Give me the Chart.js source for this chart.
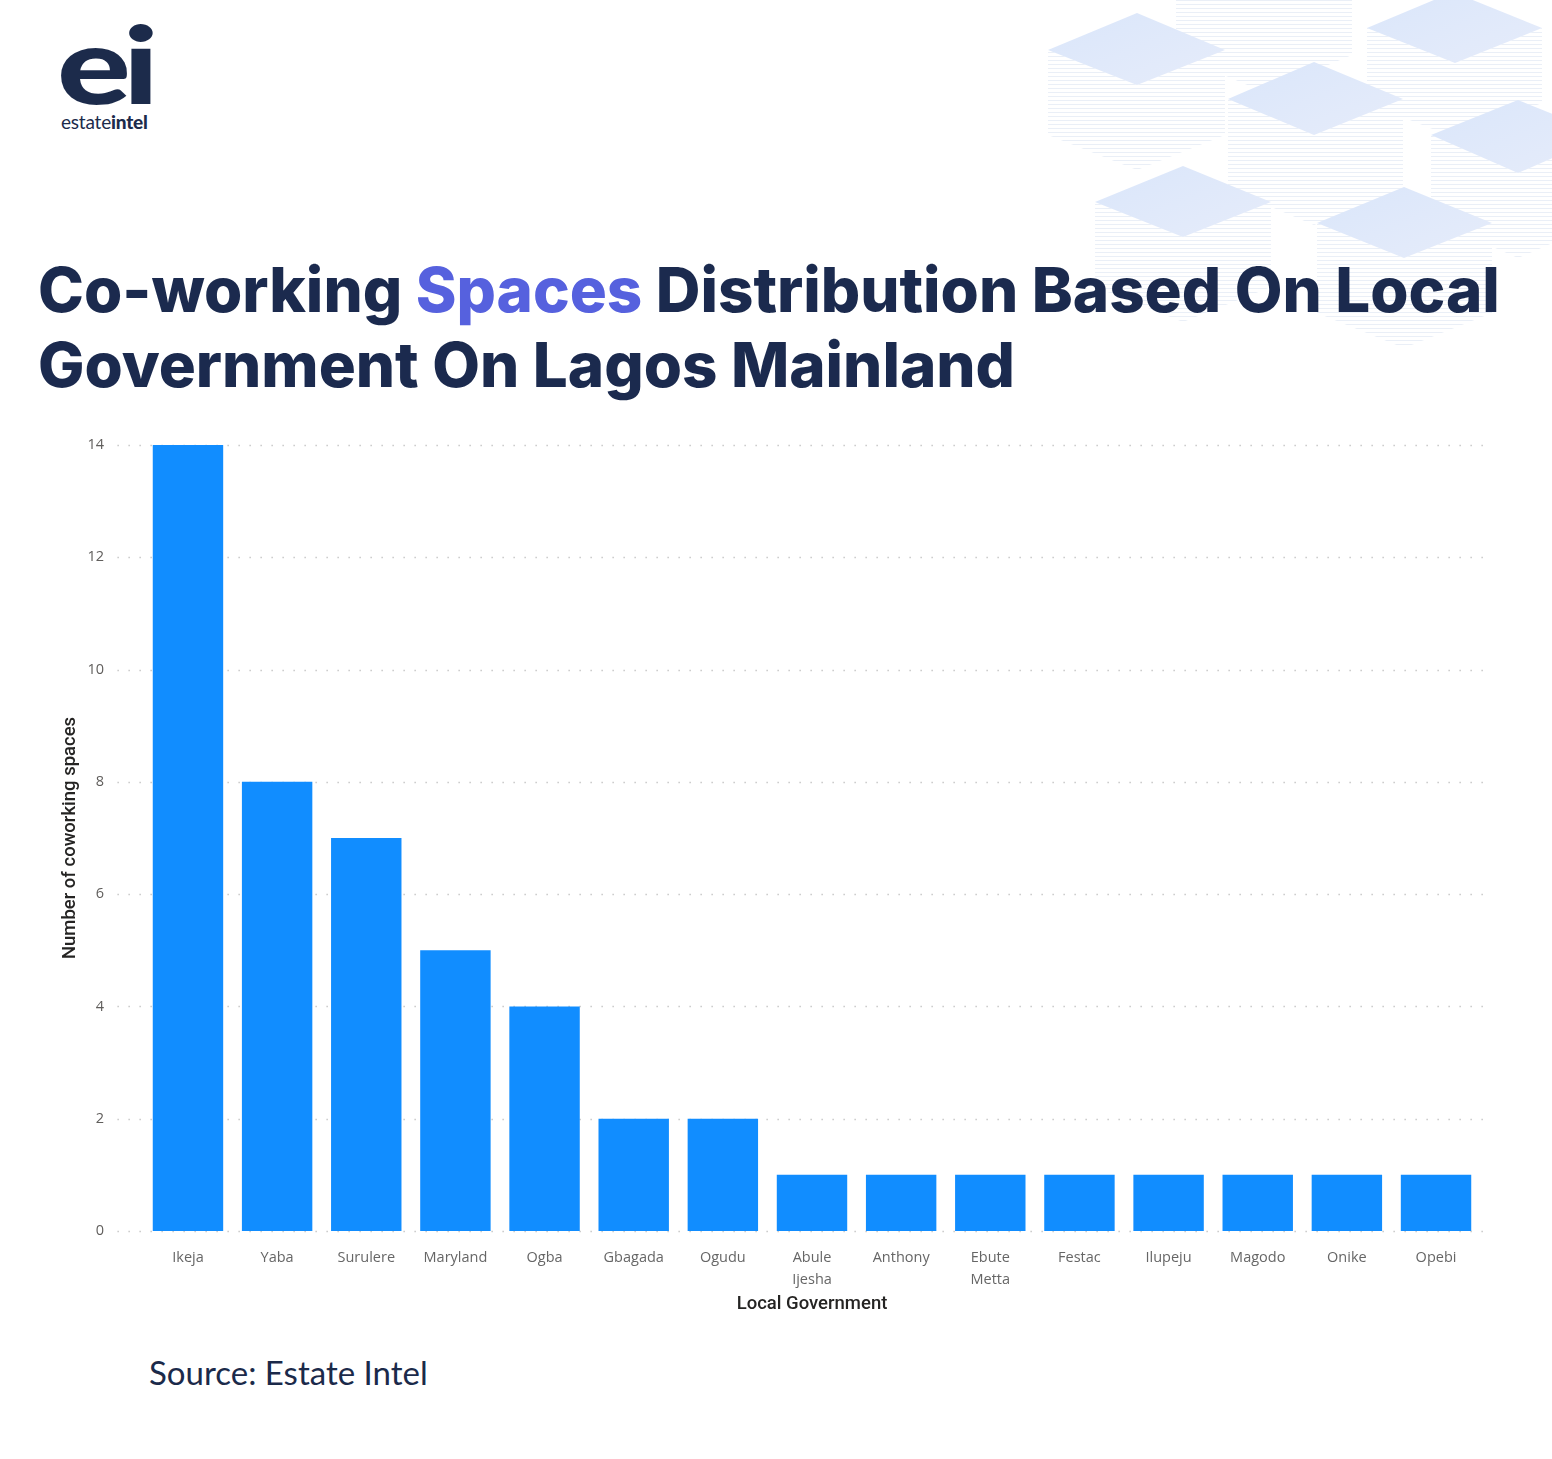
<!DOCTYPE html>
<html>
<head>
<meta charset="utf-8">
<script src="https://cdn.jsdelivr.net/npm/chart.js@4.4.1/dist/chart.umd.min.js"></script>
<style>
  html, body { margin:0; padding:0; background:#fff; }
  body { width:1552px; height:1459px; position:relative; overflow:hidden; }
  #bg { position:absolute; left:0; top:0; }
  .logo-ei { position:absolute; left:57px; top:10px; font-family:"Lato", "Open Sans", sans-serif; font-weight:900; font-size:106px; color:#1c2b4b; line-height:1; letter-spacing:-6px; transform:scaleX(1.3); transform-origin:left top; }
  .logo-txt { position:absolute; left:61px; top:112px; font-family:"Lato", sans-serif; font-size:19px; color:#1c2b4b; line-height:1; letter-spacing:-0.2px; }
  .logo-txt b { font-weight:900; }
  .title { position:absolute; left:38px; font-family:"Inter", sans-serif; font-weight:800; color:#1b2a4e; white-space:nowrap; line-height:1; }
  .title span { color:#5661de; }
  #chartBox { position:absolute; left:0; top:420px; width:1552px; height:900px; }
  .source { position:absolute; left:149px; top:1356px; font-family:"Lato", "Open Sans", sans-serif; font-size:33px; color:#1b2a4a; line-height:1; }
</style>
</head>
<body>
<svg id="bg" width="1552" height="360" xmlns="http://www.w3.org/2000/svg">
  <defs>
    <linearGradient id="topg" x1="0" y1="0" x2="1" y2="1">
      <stop offset="0" stop-color="#dae6fa"/>
      <stop offset="1" stop-color="#e6ecfa"/>
    </linearGradient>
    <pattern id="stripes" width="6" height="4" patternUnits="userSpaceOnUse">
      <rect width="6" height="4" fill="#ffffff"/>
      <rect y="0" width="6" height="1" fill="#eaeff7"/>
    </pattern>
  </defs>
  <g id="cubes"></g>
</svg>

<div class="logo-ei">ei</div>
<div class="logo-txt">estate<b>intel</b></div>

<div class="title" id="t1">Co-working <span>Spaces</span> Distribution Based On Local</div>
<div class="title" id="t2">Government On Lagos Mainland</div>

<div id="chartBox"><canvas id="c"></canvas></div>

<div class="source">Source: Estate Intel</div>

<script>
// ---- Data ----
const categories = ["Ikeja","Yaba","Surulere","Maryland","Ogba","Gbagada","Ogudu","Abule Ijesha","Anthony","Ebute Metta","Festac","Ilupeju","Magodo","Onike","Opebi"];
const coworkingSpaces = [14, 8, 7, 5, 4, 2, 2, 1, 1, 1, 1, 1, 1, 1, 1];
const yTicks = [0, 2, 4, 6, 8, 10, 12, 14];

// ---- Background decorative cubes ----
(function(){
  const cubes = [
    {l:[1176,-40], t:[1264,-77], r:[1352,-40], b:[1264,-3], d:95},
    {l:[1048,50], t:[1137,13], r:[1225,50], b:[1137,85], d:85},
    {l:[1367,28], t:[1453,-8], r:[1542,28], b:[1455,63], d:75},
    {l:[1228,99], t:[1314,62], r:[1403,99], b:[1314,135], d:90},
    {l:[1431,135], t:[1518,100], r:[1605,135], b:[1518,173], d:85},
    {l:[1095,202], t:[1183,166], r:[1271,202], b:[1183,237], d:85},
    {l:[1317,223], t:[1404,187], r:[1492,223], b:[1404,258], d:90}
  ];
  const g = document.getElementById('cubes');
  const ns = 'http://www.w3.org/2000/svg';
  cubes.forEach(c => {
    const d = c.d;
    const side = document.createElementNS(ns,'polygon');
    side.setAttribute('points', `${c.l[0]},${c.l[1]} ${c.b[0]},${c.b[1]} ${c.r[0]},${c.r[1]} ${c.r[0]},${c.r[1]+d} ${c.b[0]},${c.b[1]+d} ${c.l[0]},${c.l[1]+d}`);
    side.setAttribute('fill','url(#stripes)');
    g.appendChild(side);
    const top = document.createElementNS(ns,'polygon');
    top.setAttribute('points', `${c.l[0]},${c.l[1]} ${c.t[0]},${c.t[1]} ${c.r[0]},${c.r[1]} ${c.b[0]},${c.b[1]}`);
    top.setAttribute('fill','url(#topg)');
    g.appendChild(top);
  });
})();

// ---- Title fitting ----
(function(){
  const t1 = document.getElementById('t1'), t2 = document.getElementById('t2');
  let fs = 60;
  t1.style.fontSize = fs + 'px';
  const w = t1.getBoundingClientRect().width;
  fs = fs * 1462 / w;
  [t1, t2].forEach(t => t.style.fontSize = fs + 'px');
  t1.style.top = (313 - fs*0.88) + 'px';
  t2.style.top = (388 - fs*0.88) + 'px';
})();

// ---- Chart ----
const points = coworkingSpaces.map((v, i) => ({x: i, y: v}));

// dotted horizontal gridlines that run a little past the bar area, as in the reference
const gridPlugin = {
  id: 'extGrid',
  beforeDatasetsDraw(chart) {
    const {ctx, chartArea, scales: {y}} = chart;
    ctx.save();
    ctx.strokeStyle = '#c8c8c8';
    ctx.lineWidth = 1.5;
    ctx.setLineDash([1.5, 9.5]);
    y.ticks.forEach(t => {
      const py = Math.round(y.getPixelForValue(t.value)) + 0.5;
      ctx.beginPath();
      ctx.moveTo(chartArea.left - 26, py);
      ctx.lineTo(chartArea.right + 7, py);
      ctx.stroke();
    });
    ctx.restore();
  }
};

new Chart(document.getElementById('c'), {
  type: 'bar',
  data: {
    datasets: [{
      data: points,
      backgroundColor: '#118dff',
      borderWidth: 0,
      categoryPercentage: 1,
      barPercentage: 0.79
    }]
  },
  plugins: [gridPlugin],
  options: {
    responsive: true,
    maintainAspectRatio: false,
    animation: false,
    layout: { padding: { left: 55, right: 71.4, top: 25, bottom: 0 } },
    plugins: { legend: { display: false }, tooltip: { enabled: false } },
    scales: {
      x: {
        type: 'linear',
        min: -0.5,
        max: 14.5,
        offset: false,
        grid: { display: false },
        border: { display: false },
        afterBuildTicks: s => { s.ticks = categories.map((c, i) => ({ value: i })); },
        afterFit: s => { s.height = 89; },
        ticks: {
          autoSkip: false,
          maxRotation: 0,
          padding: 8,
          color: '#666666',
          font: { family: '"Open Sans", sans-serif', size: 14.5, lineHeight: 1.5 },
          callback: v => (Number.isInteger(v) && categories[v]) ? categories[v].split(' ') : ''
        },
        title: {
          display: true,
          text: 'Local Government',
          color: '#252423',
          font: { family: 'Roboto, sans-serif', size: 18.5, weight: 500 },
          padding: { top: 0, bottom: 5 }
        }
      },
      y: {
        min: 0,
        max: 14,
        afterBuildTicks: s => { s.ticks = yTicks.map(v => ({ value: v })); },
        afterFit: s => { s.width = 88.4; s.paddingTop = 10; s.paddingBottom = 10; },
        grid: { display: false, drawTicks: false },
        border: { display: false },
        ticks: {
          padding: 39.4,
          color: '#605e5c',
          font: { family: '"Open Sans", sans-serif', size: 14.5 }
        },
        title: {
          display: true,
          text: 'Number of coworking spaces',
          color: '#252423',
          font: { family: 'Roboto, sans-serif', size: 18.5, weight: 500 },
          padding: { top: 4, bottom: 4 }
        }
      }
    }
  }
});
</script>
</body>
</html>
